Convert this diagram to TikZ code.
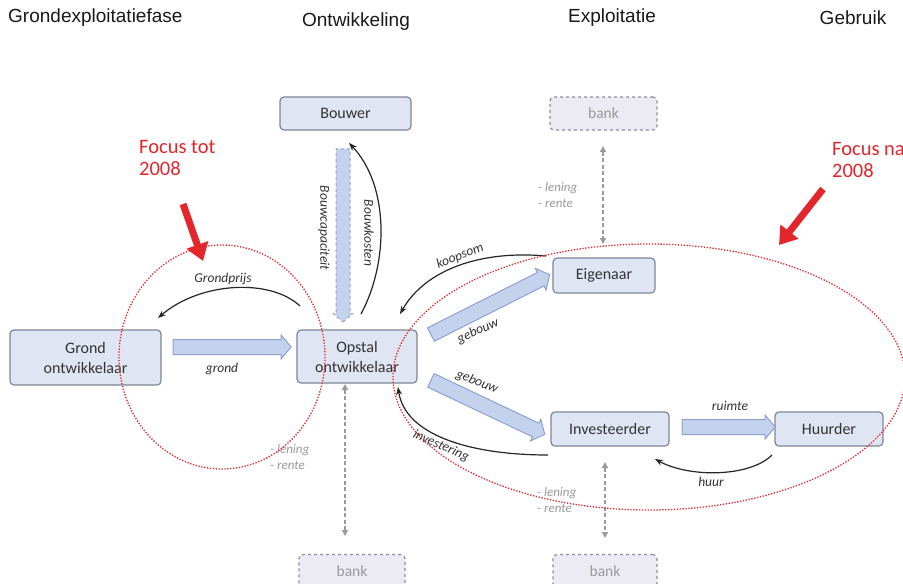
\documentclass[tikz,border=0pt]{standalone}
\usepackage{fontspec}
\setmainfont{Carlito}
\newfontfamily\hdrfont{Liberation Sans}
\usetikzlibrary{shapes.arrows, arrows.meta}
\definecolor{boxfill}{HTML}{DFE5F3}
\definecolor{boxdraw}{HTML}{7D8798}
\definecolor{bankfill}{HTML}{ECEAF3}
\definecolor{bankdraw}{HTML}{8E8E9C}
\definecolor{arrfill}{HTML}{C5D2EE}
\definecolor{arrdraw}{HTML}{8EA2CE}
\definecolor{focusred}{HTML}{E3262B}
\definecolor{greytext}{HTML}{9A9A9A}
\definecolor{boxtext}{HTML}{333333}
\begin{document}
\begin{tikzpicture}[x=1pt,y=-1pt,
  box/.style={draw=boxdraw, fill=boxfill, rounded corners=4pt, line width=1.2pt,
    inner sep=0pt, align=center, text=boxtext, font=\fontsize{16}{20}\selectfont},
  bankbox/.style={draw=bankdraw, fill=bankfill, rounded corners=4pt, line width=1.2pt,
    dashed, inner sep=0pt, text=greytext, font=\fontsize{15.5}{17}\selectfont},
  fat/.style={single arrow, draw=arrdraw, fill=arrfill, line width=1pt, inner xsep=0pt,
    inner ysep=7pt, single arrow head extend=4.5pt, single arrow tip angle=100},
  lbl/.style={font=\fontsize{13.5}{15}\selectfont\itshape, text=boxtext, inner sep=1pt},
  greylbl/.style={font=\fontsize{13}{16}\selectfont\itshape, text=greytext, align=left, anchor=west, inner sep=0pt},
  curv/.style={draw=black!85, line width=1.2pt, -{Stealth[length=8pt,width=6pt]}},
  bankarr/.style={draw=greytext, line width=1.4pt, dash pattern=on 4pt off 2.5pt, {Triangle[length=6pt,width=6pt]}-{Triangle[length=6pt,width=6pt]}},
  hdr/.style={font=\hdrfont\fontsize{19}{21}\selectfont, text=black!90, inner sep=0pt},
  focus/.style={font=\fontsize{20.5}{22}\selectfont, text=focusred, align=left, anchor=north west, inner sep=0pt},
  focusarr/.style={draw=focusred, line width=7pt, -{Triangle[length=17pt,width=22pt]}},
  ring/.style={draw=focusred, line width=1.3pt, dash pattern=on 1.3pt off 1.6pt}
]
\useasboundingbox[fill=white] (0,0) rectangle (903,584);

% headers
\node[hdr, anchor=west] (h1) at (8,18) {Grondexploitatiefase};
\node[hdr] (h2) at (356,22) {Ontwikkeling};
\node[hdr] (h3) at (612,18) {Exploitatie};
\node[hdr] (h4) at (853,18) {Gebruik};

% boxes
\node[box, minimum width=131pt, minimum height=33pt] (bouwer) at (345.5,113.5) {Bouwer};
\node[bankbox, minimum width=107pt, minimum height=33pt] (banktop) at (603.5,113.5) {bank};
\node[box, minimum width=102pt, minimum height=35pt] (eigen) at (604,275.5) {Eigenaar};
\node[box, minimum width=151pt, minimum height=55pt] (grond) at (85.5,357.5) {Grond\\ontwikkelaar};
\node[box, minimum width=120pt, minimum height=53pt] (opstal) at (357,356.5) {Opstal\\ontwikkelaar};
\node[box, minimum width=118pt, minimum height=34pt] (invest) at (610,429) {Investeerder};
\node[box, minimum width=108pt, minimum height=34pt] (huurder) at (829,429) {Huurder};
\node[bankbox, minimum width=106pt, minimum height=33pt] (bankbl) at (352,571) {bank};
\node[bankbox, minimum width=104pt, minimum height=33pt] (bankbr) at (605,571) {bank};

% fat arrows
\coordinate (gA) at (170,347); \coordinate (gB) at (288,347);
\path (gA) -- node[fat, sloped, minimum height=118pt] {} (gB);
\coordinate (bcA) at (343,146); \coordinate (bcB) at (343,319);
\path (bcA) -- node[fat, sloped, dashed, minimum height=173pt, inner ysep=6.5pt, single arrow head extend=2.5pt] {} (bcB);
\coordinate (e1A) at (428,336); \coordinate (e1B) at (547,276);
\path (e1A) -- node[fat, sloped, minimum height=133pt] {} (e1B);
\coordinate (e2A) at (428,379); \coordinate (e2B) at (542,433);
\path (e2A) -- node[fat, sloped, minimum height=126pt] {} (e2B);
\coordinate (rA) at (679,427); \coordinate (rB) at (772,427);
\path (rA) -- node[fat, sloped, minimum height=93pt] {} (rB);

% curved arrows
\coordinate (bkA) at (361,314); \coordinate (bkB) at (349,143);
\draw[curv] (bkA) .. controls (389,262) and (389,185) .. (bkB);
\coordinate (kA) at (546,256); \coordinate (kB) at (400,314);
\draw[curv] (kA) .. controls (480,250) and (425,270) .. (kB);
\coordinate (iA) at (548,455); \coordinate (iB) at (398,387);
\draw[curv] (iA) .. controls (470,455) and (405,435) .. (iB);
\coordinate (hA) at (772,455); \coordinate (hB) at (655,459);
\draw[curv] (hA) .. controls (750,477) and (690,478) .. (hB);
\coordinate (gpA) at (300,306); \coordinate (gpB) at (158,318);
\draw[curv] (gpA) .. controls (270,278) and (200,282) .. (gpB);

% bank arrows
\coordinate (btA) at (603,146); \coordinate (btB) at (603,244);
\draw[bankarr] (btA) -- (btB);
\coordinate (blA) at (345,384); \coordinate (blB) at (345,536);
\draw[bankarr] (blA) -- (blB);
\coordinate (brA) at (605,462); \coordinate (brB) at (605,538);
\draw[bankarr] (brA) -- (brB);

% labels
\node[lbl] (lgrond) at (222,369) {grond};
\node[lbl] (lgp) at (223,279) {Grondprijs};
\node[lbl, rotate=-90] (lbc) at (324,228) {Bouwcapaciteit};
\node[lbl, rotate=-90] (lbk) at (369,233) {Bouwkosten};
\node[lbl, rotate=21] (lkoop) at (460,256) {koopsom};
\node[lbl, rotate=24] (lgeb1) at (478,331) {gebouw};
\node[lbl, rotate=-22] (lgeb2) at (477,382) {gebouw};
\node[lbl, rotate=-24] (linv) at (441,446) {investering};
\node[lbl] (lruimte) at (730,406) {ruimte};
\node[lbl] (lhuur) at (711,482) {huur};
\node[greylbl] (len1) at (538,195) {- lening\\- rente};
\node[greylbl] (len2) at (270,457) {- lening\\- rente};
\node[greylbl] (len3) at (537,500) {- lening\\- rente};

% focus
\draw[ring] (222,357) ellipse [x radius=103, y radius=112];
\draw[ring] (649,377) ellipse [x radius=256, y radius=133];
\node[focus] (f1) at (139,140) {Focus tot\\2008};
\node[focus] (f2) at (832,142) {Focus na\\2008};
\coordinate (fa1) at (183,204); \coordinate (fb1) at (203,261);
\draw[focusarr] (fa1) -- (fb1);
\coordinate (fa2) at (823,189); \coordinate (fb2) at (779,245);
\draw[focusarr] (fa2) -- (fb2);
\end{tikzpicture}
\end{document}
